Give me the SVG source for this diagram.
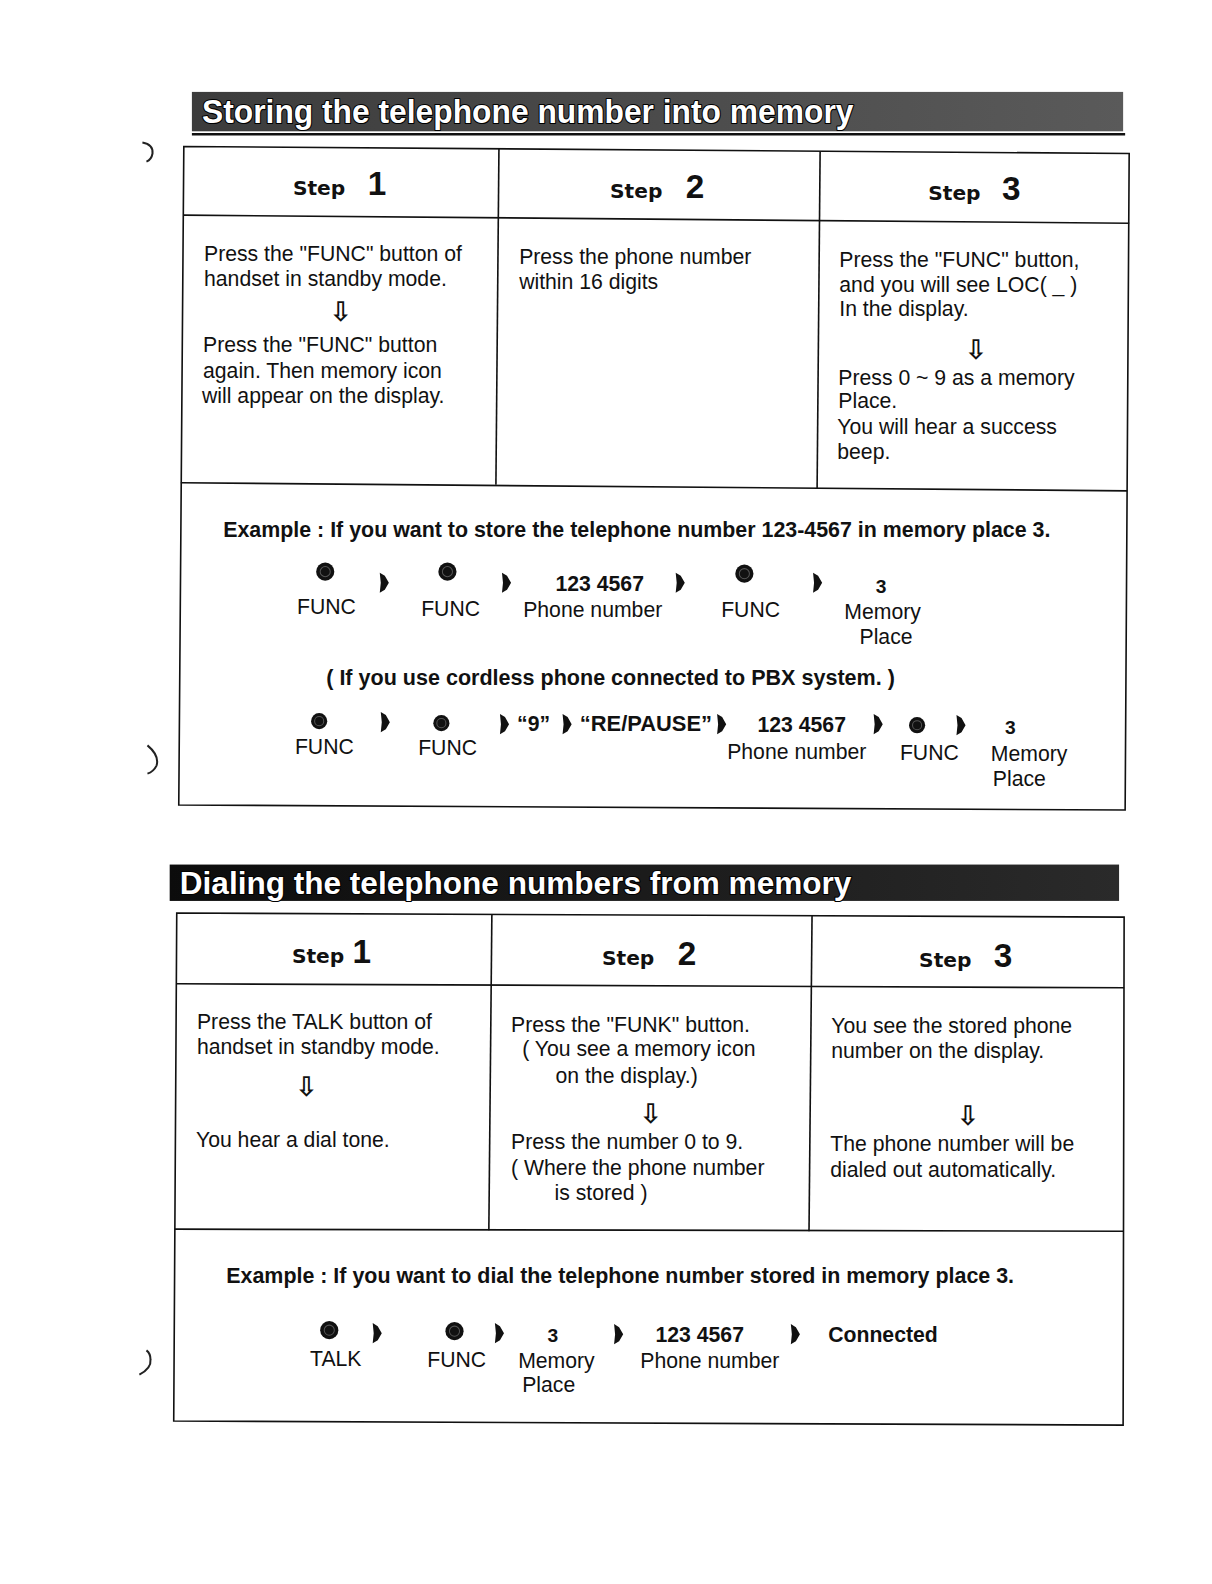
<svg xmlns="http://www.w3.org/2000/svg" xmlns:xlink="http://www.w3.org/1999/xlink" width="1212" height="1584" viewBox="0 0 1212 1584">
<defs>
<style>
.t{font-family:"Liberation Sans",Arial,sans-serif;font-size:21px;fill:#111}
.b{font-family:"Liberation Sans",Arial,sans-serif;font-size:21px;font-weight:bold;fill:#111}
.st{font-family:"DejaVu Sans",sans-serif;font-size:20px;font-weight:bold;fill:#111}
.num{font-family:"Liberation Sans",Arial,sans-serif;font-size:33px;font-weight:bold;fill:#111}
.da{font-family:"DejaVu Sans",sans-serif;font-size:27px;font-weight:bold;fill:#111}
.ban{font-family:"Liberation Sans",Arial,sans-serif;font-size:33px;font-weight:bold;fill:#fff;stroke:#000;stroke-width:2.2;paint-order:stroke;stroke-linejoin:round}
.ln{fill:none;stroke:#111;stroke-width:1.6}
.mk{fill:none;stroke:#222;stroke-width:2}
</style>
<linearGradient id="g1" x1="0" x2="1" y1="0" y2="0">
<stop offset="0" stop-color="#3c3c3c"/><stop offset="1" stop-color="#5a5a5a"/>
</linearGradient>
<linearGradient id="g2" x1="0" x2="1" y1="0" y2="0">
<stop offset="0" stop-color="#0c0c0c"/><stop offset="0.6" stop-color="#1e1e1e"/><stop offset="1" stop-color="#2a2a2a"/>
</linearGradient>
<path id="ar" d="M-4,-10 L1,-7 L5,0 L1,7 L-4,10 L-3,0 Z" fill="#111"/>
<g id="dot"><circle r="9" fill="#111"/><circle r="5" fill="none" stroke="#555" stroke-width="1"/></g>
<g id="dots"><circle r="8" fill="#111"/><circle r="4.5" fill="none" stroke="#555" stroke-width="1"/></g>
</defs>
<rect width="1212" height="1584" fill="#fff"/>
<g transform="scale(1.01)">

<g id="margin-marks">
<path class="mk" d="M141,141 Q152,143 151,152 Q150,158 145,160"/>
<path class="mk" d="M146,738 Q158,748 155,758 Q152,764 146,766"/>
<path class="mk" d="M138,1361 Q150,1355 149,1346 Q149,1340 145,1337"/>
</g>

<g id="banner1">
<rect x="190" y="91" width="922" height="39" fill="url(#g1)"/>
<line x1="190" y1="133" x2="1114" y2="133" stroke="#111" stroke-width="2.5"/>
<text class="ban" x="200" y="122" textLength="645" lengthAdjust="spacingAndGlyphs">Storing the telephone number into memory</text>
</g>

<g id="table1-lines" class="ln">
<polygon class="ln" points="182,145 1118,152 1114,802 177,797"/>
<line x1="182" y1="213" x2="1118" y2="221"/>
<line x1="179" y1="478" x2="1116" y2="486"/>
<line x1="494" y1="147" x2="491" y2="480"/>
<line x1="812" y1="150" x2="809" y2="484"/>
</g>

<g id="t1-step1">
<text class="st" x="290" y="193">Step</text><text class="num" x="364" y="193">1</text>
<text class="t" x="202" y="258">Press the "FUNC" button of</text>
<text class="t" x="202" y="283">handset in standby mode.</text>
<text class="da" x="326" y="318">⇩</text>
<text class="t" x="201" y="349">Press the "FUNC" button</text>
<text class="t" x="201" y="374">again. Then memory icon</text>
<text class="t" x="200" y="399">will appear on the display.</text>
</g>
<g id="t1-step2">
<text class="st" x="604" y="196">Step</text><text class="num" x="679" y="196">2</text>
<text class="t" x="514" y="261">Press the phone number</text>
<text class="t" x="514" y="286">within 16 digits</text>
</g>
<g id="t1-step3">
<text class="st" x="919" y="198">Step</text><text class="num" x="992" y="198">3</text>
<text class="t" x="831" y="264">Press the "FUNC" button,</text>
<text class="t" x="831" y="289">and you will see LOC( _ )</text>
<text class="t" x="831" y="313">In the display.</text>
<text class="da" x="955" y="355">⇩</text>
<text class="t" x="830" y="381">Press 0 ~ 9 as a memory</text>
<text class="t" x="830" y="404">Place.</text>
<text class="t" x="829" y="430">You will hear a success</text>
<text class="t" x="829" y="454">beep.</text>
</g>

<g id="t1-example">
<text class="b" x="221" y="532" textLength="819" lengthAdjust="spacingAndGlyphs">Example : If you want to store the telephone number 123-4567 in memory place 3.</text>
<use xlink:href="#dot" x="322" y="566"/>
<use xlink:href="#ar" x="380" y="577"/>
<use xlink:href="#dot" x="443" y="566"/>
<use xlink:href="#ar" x="501" y="577"/>
<text class="b" x="550" y="585">123 4567</text>
<use xlink:href="#ar" x="673" y="577"/>
<use xlink:href="#dot" x="737" y="568"/>
<use xlink:href="#ar" x="809" y="577"/>
<text class="b" x="867" y="587" style="font-size:19px">3</text>
<text class="t" x="294" y="608">FUNC</text>
<text class="t" x="417" y="610">FUNC</text>
<text class="t" x="518" y="611">Phone number</text>
<text class="t" x="714" y="611">FUNC</text>
<text class="t" x="836" y="613">Memory</text>
<text class="t" x="851" y="638">Place</text>
<text class="b" x="323" y="678" textLength="563" lengthAdjust="spacingAndGlyphs">( If you use cordless phone connected to PBX system. )</text>
<use xlink:href="#dots" x="316" y="714"/>
<use xlink:href="#ar" x="381" y="715"/>
<use xlink:href="#dots" x="437" y="716"/>
<use xlink:href="#ar" x="499" y="717"/>
<text class="b" x="512" y="724">“9”</text>
<use xlink:href="#ar" x="561" y="717"/>
<text class="b" x="574" y="724" textLength="131" lengthAdjust="spacingAndGlyphs">“RE/PAUSE”</text>
<use xlink:href="#ar" x="714" y="717"/>
<text class="b" x="750" y="725">123 4567</text>
<use xlink:href="#ar" x="869" y="717"/>
<use xlink:href="#dots" x="908" y="718"/>
<use xlink:href="#ar" x="951" y="718"/>
<text class="b" x="995" y="727" style="font-size:19px">3</text>
<text class="t" x="292" y="747">FUNC</text>
<text class="t" x="414" y="748">FUNC</text>
<text class="t" x="720" y="751">Phone number</text>
<text class="t" x="891" y="752">FUNC</text>
<text class="t" x="981" y="753">Memory</text>
<text class="t" x="983" y="778">Place</text>
</g>

<g id="banner2">
<rect x="168" y="856" width="940" height="36" fill="url(#g2)"/>
<text class="ban" x="178" y="885" textLength="665" lengthAdjust="spacingAndGlyphs" style="font-size:31px">Dialing the telephone numbers from memory</text>
</g>

<g id="table2-lines" class="ln">
<polygon class="ln" points="175,904 1113,908 1112,1411 172,1407"/>
<line x1="175" y1="974" x2="1113" y2="978"/>
<line x1="173" y1="1217" x2="1112" y2="1219"/>
<line x1="487" y1="905" x2="484" y2="1218"/>
<line x1="804" y1="907" x2="801" y2="1219"/>
</g>

<g id="t2-step1">
<text class="st" x="289" y="953">Step</text><text class="num" x="349" y="953">1</text>
<text class="t" x="195" y="1019">Press the TALK button of</text>
<text class="t" x="195" y="1044">handset in standby mode.</text>
<text class="da" x="292" y="1085">⇩</text>
<text class="t" x="194" y="1136">You hear a dial tone.</text>
</g>
<g id="t2-step2">
<text class="st" x="596" y="955">Step</text><text class="num" x="671" y="955">2</text>
<text class="t" x="506" y="1022">Press the "FUNK" button.</text>
<text class="t" x="517" y="1046">( You see a memory icon</text>
<text class="t" x="550" y="1072">on the display.)</text>
<text class="da" x="633" y="1112">⇩</text>
<text class="t" x="506" y="1138">Press the number 0 to 9.</text>
<text class="t" x="506" y="1163">( Where the phone number</text>
<text class="t" x="549" y="1188">is stored )</text>
</g>
<g id="t2-step3">
<text class="st" x="910" y="957">Step</text><text class="num" x="984" y="957">3</text>
<text class="t" x="823" y="1023">You see the stored phone</text>
<text class="t" x="823" y="1048">number on the display.</text>
<text class="da" x="947" y="1114">⇩</text>
<text class="t" x="822" y="1140">The phone number will be</text>
<text class="t" x="822" y="1165">dialed out automatically.</text>
</g>

<g id="t2-example">
<text class="b" x="224" y="1270" textLength="780" lengthAdjust="spacingAndGlyphs">Example : If you want to dial the telephone number stored in memory place 3.</text>
<use xlink:href="#dot" x="326" y="1317"/>
<use xlink:href="#ar" x="373" y="1320"/>
<use xlink:href="#dot" x="450" y="1318"/>
<use xlink:href="#ar" x="494" y="1320"/>
<text class="b" x="542" y="1329" style="font-size:19px">3</text>
<use xlink:href="#ar" x="612" y="1321"/>
<text class="b" x="649" y="1329">123 4567</text>
<use xlink:href="#ar" x="787" y="1321"/>
<text class="b" x="820" y="1329">Connected</text>
<text class="t" x="307" y="1352">TALK</text>
<text class="t" x="423" y="1353">FUNC</text>
<text class="t" x="513" y="1354">Memory</text>
<text class="t" x="634" y="1354">Phone number</text>
<text class="t" x="517" y="1378">Place</text>
</g>
</g>
</svg>
